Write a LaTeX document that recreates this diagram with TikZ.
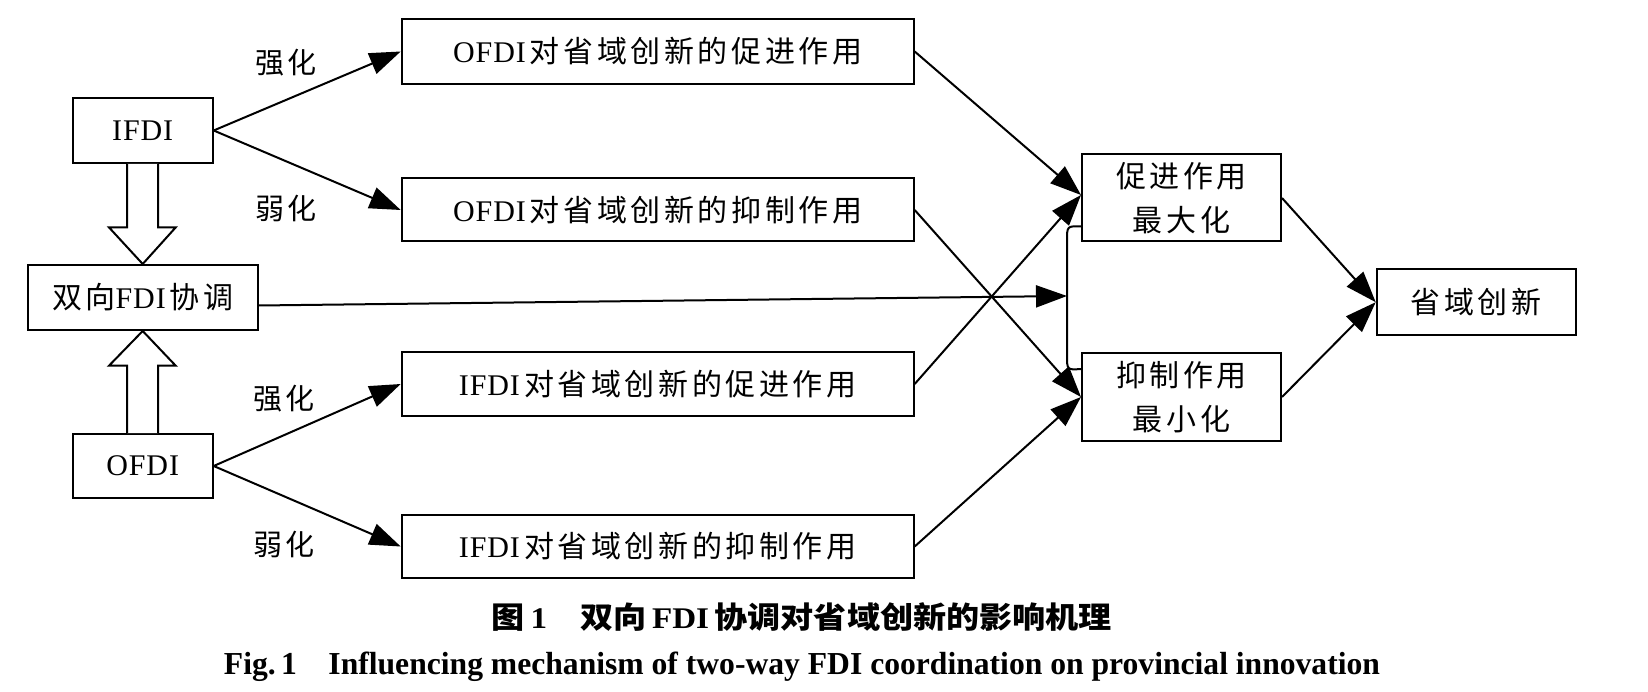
\documentclass[tikz,border=0pt]{standalone}
\usepackage{fontspec}
\usepackage{graphicx}
\setmainfont{Liberation Serif}[LetterSpace=3]
\newfontfamily\cjk{Noto Sans CJK SC}[LetterSpace=12]
\newfontfamily\cjkcap{Noto Sans CJK SC}
\newfontfamily\capserif{Liberation Serif}
\usetikzlibrary{arrows.meta,calc}
\tikzset{
  box/.style={draw, line width=2pt, inner sep=0pt, align=center, font=\fontsize{30}{44}\selectfont},
  lbl/.style={inner sep=0pt, font=\fontsize{29}{32}\selectfont},
  arr/.style={line width=2pt, -{Triangle[length=31pt,width=22pt]}},
  hollow/.style={draw, line width=2pt, line join=miter, fill=white},
  bracket/.style={line width=2pt},
  capnode/.style={inner sep=0pt}
}
\newcommand\gapc{\hspace{4pt}}
\begin{document}
\begin{tikzpicture}[x=1pt,y=-1pt]
\useasboundingbox[fill=white] (0,0) rectangle (1648,692);
% left column
\node[box, minimum width=140pt, minimum height=65pt] (ifdi) at (142.7,130.5) {IFDI};
\node[box, minimum width=230pt, minimum height=65pt] (coord) at (142.7,297.5) {{\cjk 双向}FDI\gapc{\cjk 协调}};
\node[box, minimum width=140pt, minimum height=64pt] (ofdi) at (142.7,466) {OFDI};
% middle column
\node[box, minimum width=512pt, minimum height=65pt] (b1) at (657.7,51.5) {OFDI\gapc{\cjk 对省域创新的促进作用}};
\node[box, minimum width=512pt, minimum height=63pt] (b2) at (657.7,210) {OFDI\gapc{\cjk 对省域创新的抑制作用}};
\node[box, minimum width=512pt, minimum height=64pt] (b3) at (657.7,384) {IFDI\gapc{\cjk 对省域创新的促进作用}};
\node[box, minimum width=512pt, minimum height=63pt] (b4) at (657.7,546.5) {IFDI\gapc{\cjk 对省域创新的抑制作用}};
% right column
\node[box, minimum width=199pt, minimum height=87pt] (max) at (1181.5,198) {{\cjk 促进作用}\\{\cjk 最大化}};
\node[box, minimum width=199pt, minimum height=88pt] (min) at (1181.5,397) {{\cjk 抑制作用}\\{\cjk 最小化}};
\node[box, minimum width=199pt, minimum height=66pt] (innov) at (1476.2,302.2) {{\cjk 省域创新}};
% labels
\node[lbl] (l1) at (286,63) {\cjk 强化};
\node[lbl] (l2) at (286,208) {\cjk 弱化};
\node[lbl] (l3) at (284,399) {\cjk 强化};
\node[lbl] (l4) at (284,544) {\cjk 弱化};
% connectors
\draw[arr] (ifdi.east) -- (b1.west);
\draw[arr] (ifdi.east) -- (b2.west);
\draw[arr] (ofdi.east) -- (b3.west);
\draw[arr] (ofdi.east) -- (b4.west);
\draw[arr] (b1.east) -- ([yshift=3pt]max.west);
\draw[arr] (b3.east) -- ([yshift=3pt]max.west);
\draw[arr] (b2.east) -- (min.west);
\draw[arr] (b4.east) -- (min.west);
\draw[arr] (max.east) -- (innov.west);
\draw[arr] (min.east) -- (innov.west);
% bracket
\coordinate (bt) at ([yshift=16pt]max.south west);
\coordinate (bb) at ([yshift=-17pt]min.north west);
\coordinate (bm) at (1067,296);
\draw[bracket] (bt) .. controls (1067,226) .. (1067,241) -- (1067,355) .. controls (1067,370) .. (bb);
\draw[arr] ([yshift=-8pt]coord.east) -- (bm);
% hollow arrows
\draw[hollow] ($(ifdi.south)+(-15.5,0)$) -- ($(ifdi.south)+(-15.5,63.4)$) -- ($(ifdi.south)+(-33.7,63.4)$)
  -- (coord.north) -- ($(ifdi.south)+(33,63.4)$) -- ($(ifdi.south)+(15.5,63.4)$) -- ($(ifdi.south)+(15.5,0)$);
\draw[hollow] ($(ofdi.north)+(-15.5,0)$) -- ($(ofdi.north)+(-15.5,-67.3)$) -- ($(ofdi.north)+(-33.7,-67.3)$)
  -- (coord.south) -- ($(ofdi.north)+(33,-67.3)$) -- ($(ofdi.north)+(15.5,-67.3)$) -- ($(ofdi.north)+(15.5,0)$);
% captions
\node[capnode] (cap1) at (802,617) {\resizebox{620pt}{\height}{\fontsize{30}{32}\selectfont{\cjkcap\bfseries 图}\,{\capserif\bfseries 1}\quad{\cjkcap\bfseries 双向}\,{\capserif\bfseries FDI}\,{\cjkcap\bfseries 协调对省域创新的影响机理}}};
\node[capnode] (cap2) at (802,667) {\resizebox{1156pt}{\height}{\fontsize{32}{34}\selectfont\capserif\bfseries Fig.\,1\quad Influencing mechanism of two-way FDI coordination on provincial innovation}};
\end{tikzpicture}
\end{document}
